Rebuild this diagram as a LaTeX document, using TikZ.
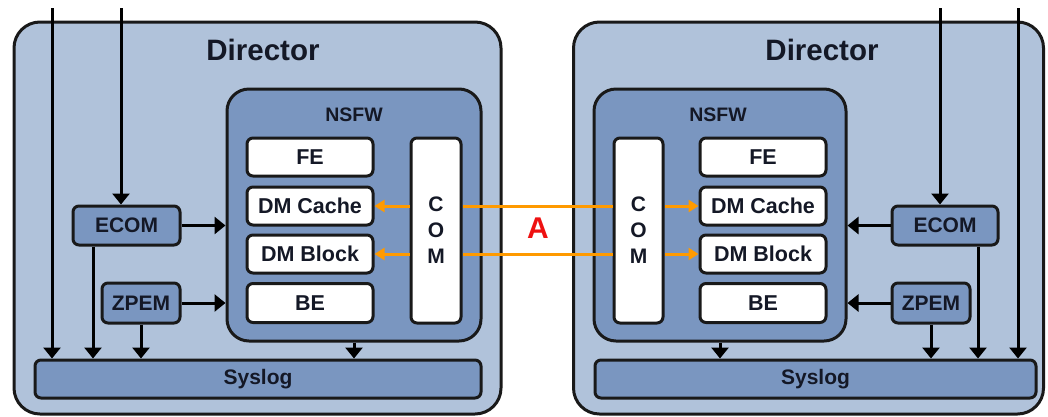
\documentclass[tikz,border=0pt]{standalone}
\usepackage{fontspec}
\setmainfont{Liberation Sans}
\usetikzlibrary{arrows.meta}
\definecolor{outerblue}{HTML}{B0C2DA}
\definecolor{innerblue}{HTML}{7A96C0}
\definecolor{txt}{HTML}{141826}
\definecolor{orng}{HTML}{FF9A00}
\definecolor{redA}{HTML}{EE1111}
\tikzset{
  dirbox/.style={draw=black!90, line width=3pt, fill=outerblue, rounded corners=26pt, inner sep=0pt},
  nsfwbox/.style={draw=black!90, line width=3pt, fill=innerblue, rounded corners=22pt, inner sep=0pt},
  whitebox/.style={draw=black!90, line width=3pt, fill=white, rounded corners=6pt, inner sep=0pt,
    text=txt, font=\fontsize{21.5}{23}\selectfont\bfseries},
  bluebox/.style={draw=black!90, line width=3pt, fill=innerblue, rounded corners=6pt, inner sep=0pt,
    text=txt, font=\fontsize{21}{23}\selectfont\bfseries},
  dirlbl/.style={text=txt, font=\fontsize{29.5}{31}\selectfont\bfseries},
  nsfwlbl/.style={text=txt, font=\fontsize{19.5}{21}\selectfont\bfseries},
  blk/.style={draw=black, line width=3pt, -{Triangle[length=11pt,width=17pt]}},
  org/.style={draw=orng, line width=3pt, -{Triangle[length=10pt,width=12pt]}},
  orgline/.style={draw=orng, line width=3pt},
}
\begin{document}
\begin{tikzpicture}[x=1pt,y=-1pt]
\useasboundingbox (0,0) rectangle (1048,416);
% ===== Left Director =====
\node[dirbox, minimum width=487pt, minimum height=392pt] (dirL) at (257.5,218) {};
\node[dirlbl] (dirLl) at (263,50) {Director};
\node[nsfwbox, minimum width=254pt, minimum height=252pt] (nsfwL) at (354,215) {};
\node[nsfwlbl] (nsfwLl) at (354,115) {NSFW};
\node[whitebox, minimum width=126pt, minimum height=38pt] (feL) at (310,157) {FE};
\node[whitebox, minimum width=126pt, minimum height=38pt] (dmcL) at (310,206) {DM Cache};
\node[whitebox, minimum width=126pt, minimum height=38pt] (dmbL) at (310,254) {DM Block};
\node[whitebox, minimum width=126pt, minimum height=39pt] (beL) at (310,303) {BE};
\node[whitebox, minimum width=50pt, minimum height=185pt, align=center, font=\fontsize{21}{26}\selectfont\bfseries] (comL) at (436,230.5) {C\\O\\M};
\node[bluebox, minimum width=107pt, minimum height=39pt] (ecomL) at (126.5,225.5) {ECOM};
\node[bluebox, minimum width=78pt, minimum height=40pt] (zpemL) at (141,303) {ZPEM};
\node[bluebox, minimum width=446pt, minimum height=38pt] (syslogL) at (258,379) {Syslog};
% ===== Right Director =====
\node[dirbox, minimum width=470pt, minimum height=392pt] (dirR) at (808.5,218) {};
\node[dirlbl] (dirRl) at (822,50) {Director};
\node[nsfwbox, minimum width=252pt, minimum height=252pt] (nsfwR) at (720,215) {};
\node[nsfwlbl] (nsfwRl) at (718,115) {NSFW};
\node[whitebox, minimum width=126pt, minimum height=38pt] (feR) at (763,157) {FE};
\node[whitebox, minimum width=126pt, minimum height=38pt] (dmcR) at (763,206) {DM Cache};
\node[whitebox, minimum width=126pt, minimum height=38pt] (dmbR) at (763,254) {DM Block};
\node[whitebox, minimum width=126pt, minimum height=39pt] (beR) at (763,303) {BE};
\node[whitebox, minimum width=49pt, minimum height=185pt, align=center, font=\fontsize{21}{26}\selectfont\bfseries] (comR) at (638.5,230.5) {C\\O\\M};
\node[bluebox, minimum width=106pt, minimum height=39pt] (ecomR) at (945,225.5) {ECOM};
\node[bluebox, minimum width=78pt, minimum height=40pt] (zpemR) at (931,303) {ZPEM};
\node[bluebox, minimum width=441pt, minimum height=38pt] (syslogR) at (815.5,379) {Syslog};
% ===== free ends =====
\coordinate (topL1) at (52,8);
\coordinate (topL2) at (121,8);
\coordinate (topR1) at (940,8);
\coordinate (topR2) at (1018,8);
% ===== Left arrows =====
\draw[blk] (topL1) -- (topL1 |- syslogL.north);
\draw[blk] (topL2) -- (topL2 |- ecomL.north);
\draw[blk] (ecomL.east) -- (ecomL.east -| nsfwL.west);
\draw[blk] (zpemL.east) -- (zpemL.east -| nsfwL.west);
\draw[blk] ([xshift=-33.5pt]ecomL.south) -- ([xshift=-33.5pt]ecomL.south |- syslogL.north);
\draw[blk] (zpemL.south) -- (zpemL.south |- syslogL.north);
\draw[blk] (nsfwL.south) -- (nsfwL.south |- syslogL.north);
% ===== Right arrows =====
\draw[blk] (topR2) -- (topR2 |- syslogR.north);
\draw[blk] (topR1) -- (topR1 |- ecomR.north);
\draw[blk] (ecomR.west) -- (ecomR.west -| nsfwR.east);
\draw[blk] (zpemR.west) -- (zpemR.west -| nsfwR.east);
\draw[blk] ([xshift=33pt]ecomR.south) -- ([xshift=33pt]ecomR.south |- syslogR.north);
\draw[blk] (zpemR.south) -- (zpemR.south |- syslogR.north);
\draw[blk] (nsfwR.south) -- (nsfwR.south |- syslogR.north);
% ===== Orange links =====
\draw[orgline] (comL.east |- dmcL.east) -- (comR.west |- dmcR.west);
\draw[orgline] (comL.east |- dmbL.east) -- (comR.west |- dmbR.west);
\draw[org] (comL.west |- dmcL.east) -- (dmcL.east);
\draw[org] (comL.west |- dmbL.east) -- (dmbL.east);
\draw[org] (comR.east |- dmcR.west) -- (dmcR.west);
\draw[org] (comR.east |- dmbR.west) -- (dmbR.west);
\node[text=redA, font=\fontsize{30}{32}\selectfont\bfseries] (A) at (538,228) {A};
\end{tikzpicture}
\end{document}
